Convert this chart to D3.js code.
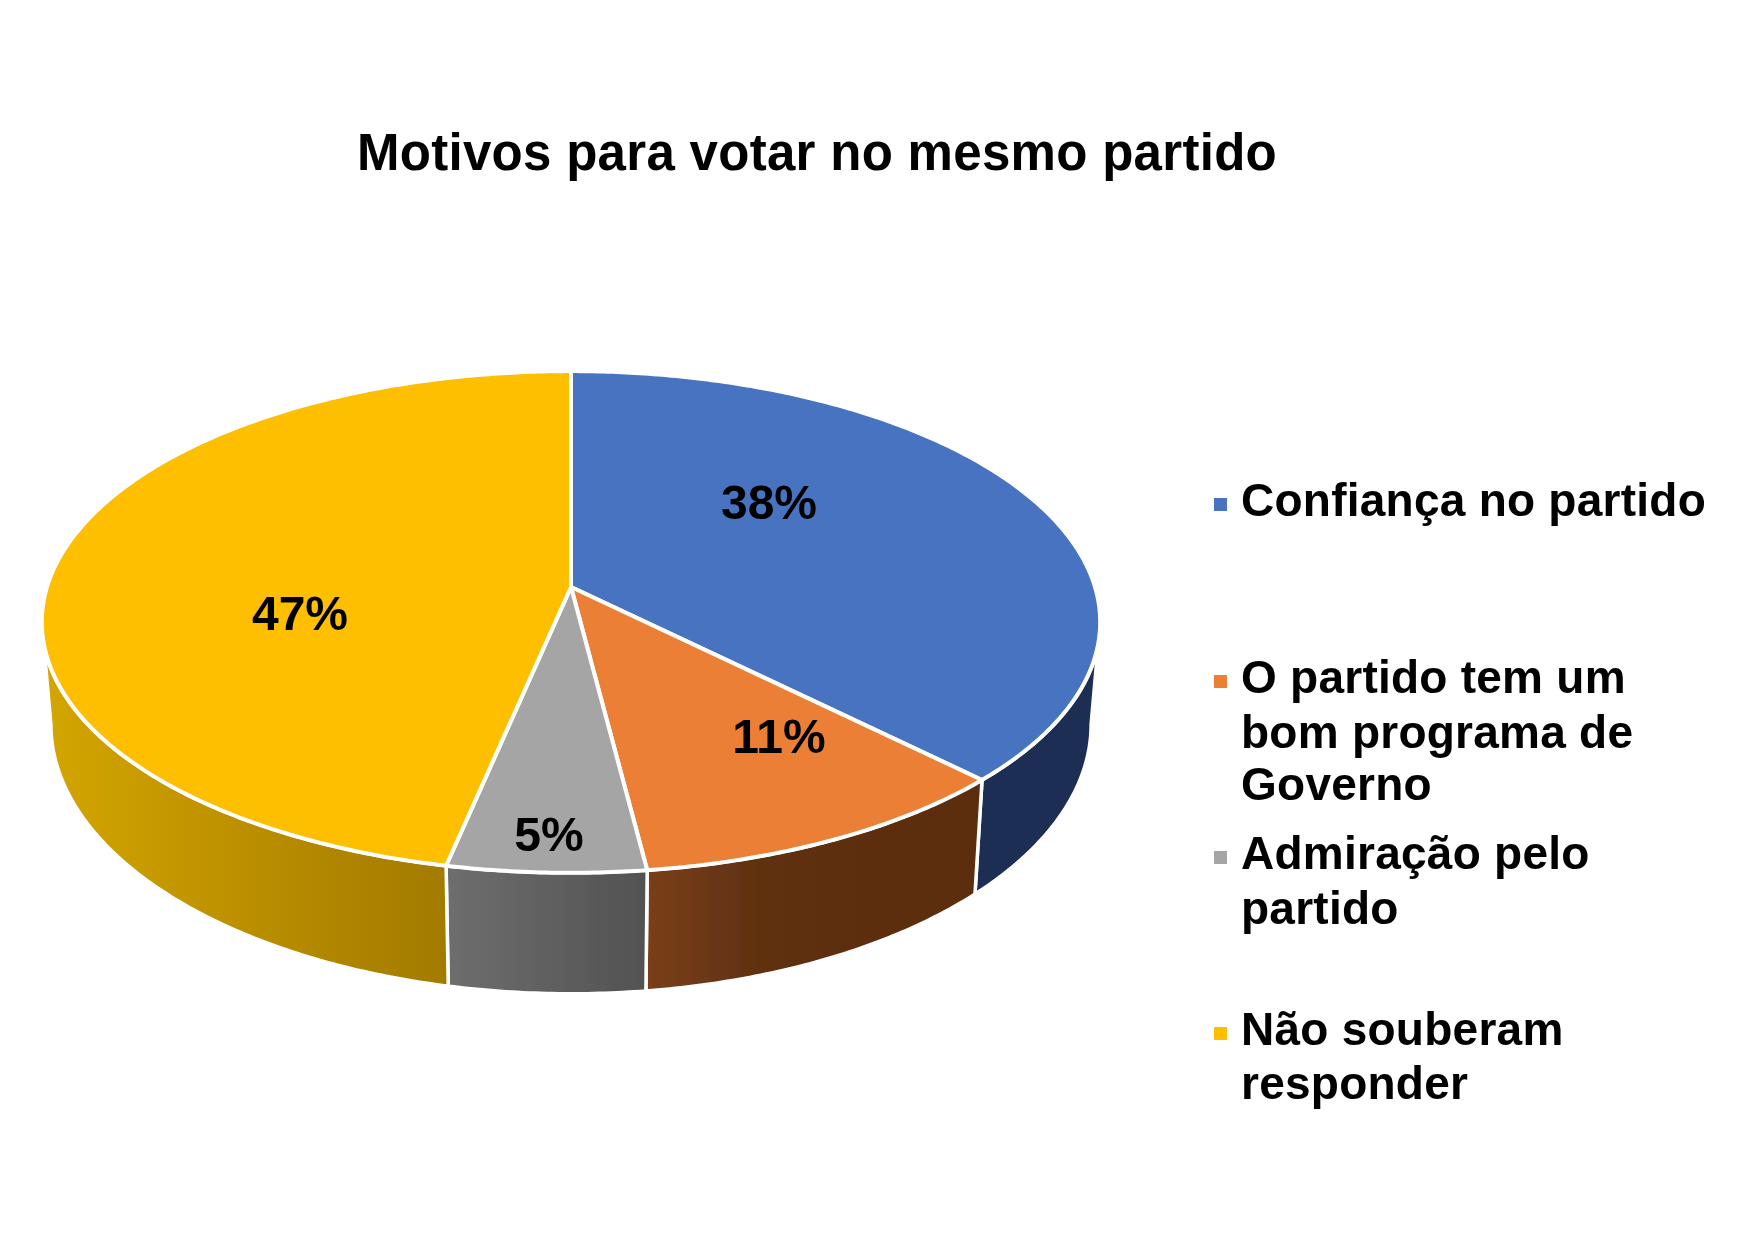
<!DOCTYPE html>
<html>
<head>
<meta charset="utf-8">
<script src="https://cdnjs.cloudflare.com/ajax/libs/d3/7.8.5/d3.min.js"></script>
<style>
  html, body { margin: 0; background: #fff; }
  text { font-family: "Liberation Sans", Arial, sans-serif; font-weight: bold; fill: #000; }
</style>
</head>
<body>
<div id="chart"></div>
<script>
const categories = ["Confiança no partido", "O partido tem um bom programa de Governo", "Admiração pelo partido", "Não souberam responder"];
const shares = [37.5, 10.5, 5.3, 46.7];
const chartTitle = "Motivos para votar no mesmo partido";

const topColors = ["#4773c0", "#ea7f35", "#a5a5a5", "#fdbf00"];
const wallColors = [["#1c2d52", "#1c2d52", "#1c2d52"], ["#7a3f1a", "#5e3010", "#5c2e0f"], ["#6e6e6e", "#606060", "#525252"], ["#d4a600", "#bb8f00", "#a27a00"]];
const legendLines = [["Confiança no partido"], ["O partido tem um", "bom programa de", "Governo"], ["Admiração pelo", "partido"], ["Não souberam", "responder"]];
// layout
const legendBaselines = [[516], [693, 748, 800], [869, 924], [1045, 1099]];
const labelCenters = [[769, 502], [779, 736], [549, 834], [300, 613]];

const width = 1749, height = 1241;
const svg = d3.select("#chart").append("svg").attr("width", width).attr("height", height);
const defs = svg.append("defs");

// reference is a soft, upscaled image
defs.append("filter").attr("id", "soft")
  .attr("filterUnits", "userSpaceOnUse")
  .attr("x", 0).attr("y", 0).attr("width", width).attr("height", height)
  .append("feGaussianBlur").attr("stdDeviation", 0.7);
const root = svg.append("g").attr("filter", "url(#soft)");

// the pie is in perspective, so the disc goes through a projective map
function projector(cx, cy, a, b, k){
  return function(angle, r){
    let u = r * Math.sin(angle), v = -r * Math.cos(angle);
    let w = 1 - k * v;
    return [cx + a * u / w, cy + b * v / w];
  };
}
const k = 0.1394;
const topDisc = projector(571, 587, 524, 246, k);
const bottomDisc = projector(571, 687, 515, 264, k);

const arcs = d3.pie().value(d => d).sort(null)(shares);
const line = d3.line();

function sampleAngles(a0, a1){
  let n = Math.max(2, Math.ceil((a1 - a0) / 0.01));
  return d3.range(n + 1).map(i => a0 + (a1 - a0) * i / n);
}

// only the front of the wall can be seen
const wallStart = Math.acos(-k), wallEnd = 2 * Math.PI - wallStart;

const walls = root.append("g");
arcs.forEach((d, i) => {
  let a0 = Math.max(d.startAngle, wallStart), a1 = Math.min(d.endAngle, wallEnd);
  let angles = sampleAngles(a0, a1);
  let pts = angles.map(a => topDisc(a, 1)).concat(angles.slice().reverse().map(a => bottomDisc(a, 1)));
  let grad = defs.append("linearGradient").attr("id", "wall-" + i);
  grad.append("stop").attr("offset", "0%").attr("stop-color", wallColors[i][0]);
  grad.append("stop").attr("offset", i == 1 ? "35%" : "50%").attr("stop-color", wallColors[i][1]);
  grad.append("stop").attr("offset", "100%").attr("stop-color", wallColors[i][2]);
  walls.append("path")
    .attr("d", line(pts) + "Z")
    .attr("fill", "url(#wall-" + i + ")")
    .attr("stroke", "#fff")
    .attr("stroke-width", 3.5)
    .attr("stroke-linejoin", "round");
});

root.append("g").selectAll("path")
  .data(arcs)
  .enter()
  .append("path")
  .attr("d", d => {
    let pts = sampleAngles(d.startAngle, d.endAngle).map(a => topDisc(a, 1));
    pts.unshift(topDisc(0, 0));
    return line(pts) + "Z";
  })
  .attr("fill", (d, i) => topColors[i])
  .attr("stroke", "#fff")
  .attr("stroke-width", 4)
  .attr("stroke-linejoin", "round");

root.append("g").selectAll("text")
  .data(arcs)
  .enter()
  .append("text")
  .attr("x", (d, i) => labelCenters[i][0])
  .attr("y", (d, i) => labelCenters[i][1] + 17)
  .attr("text-anchor", "middle")
  .attr("font-size", 48)
  .text(d => d3.format(".0f")(d.value) + "%");

root.append("text")
  .attr("x", 817)
  .attr("y", 170)
  .attr("text-anchor", "middle")
  .attr("font-size", 51)
  .attr("letter-spacing", 0.3)
  .text(chartTitle);

const legend = root.append("g");
categories.forEach((c, i) => {
  let g = legend.append("g").attr("class", "legend-item");
  g.append("rect")
    .attr("x", 1214)
    .attr("y", legendBaselines[i][0] - 18)
    .attr("width", 13)
    .attr("height", 13)
    .attr("fill", topColors[i]);
  legendLines[i].forEach((t, j) => {
    g.append("text")
      .attr("x", 1241)
      .attr("y", legendBaselines[i][j])
      .attr("font-size", 46)
      .attr("letter-spacing", 0.25)
      .text(t);
  });
});
</script>
</body>
</html>
